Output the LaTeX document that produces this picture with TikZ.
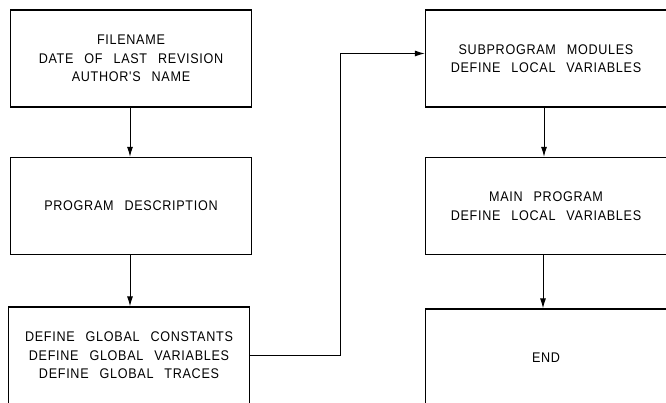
\documentclass[tikz,border=0pt]{standalone}
\usepackage{fontspec}
\newfontfamily\cadfont[FakeStretch=0.9,LetterSpace=5,WordSpace=2.6]{Liberation Sans}
\usetikzlibrary{arrows.meta}
\tikzset{
  blk/.style={draw,line width=1.3pt,minimum width=241pt,minimum height=97pt,
    align=center,inner sep=0pt,font=\cadfont\fontsize{14}{18.5}\selectfont},
  arr/.style={line width=1pt,-{Latex[length=10pt,width=6pt]}}
}
\begin{document}
\begin{tikzpicture}[x=1pt,y=-1pt]
	\useasboundingbox (0,0) rectangle (666,403);
	\clip (0,0) rectangle (666,403);
	% left column
	\node[blk] (head) at (131,58.5) {FILENAME\\DATE OF LAST REVISION\\AUTHOR'S NAME};
	\node[blk] (desc) at (131,206) {PROGRAM DESCRIPTION};
	\node[blk] (glob) at (129,355.5) {DEFINE GLOBAL CONSTANTS\\DEFINE GLOBAL VARIABLES\\DEFINE GLOBAL TRACES};
	% right column
	\node[blk] (subs) at (546,58.5) {SUBPROGRAM MODULES\\DEFINE LOCAL VARIABLES};
	\node[blk] (main) at (546,206) {MAIN PROGRAM\\DEFINE LOCAL VARIABLES};
	\node[blk] (fin) at (546,357.5) {END};
	\coordinate (jog) at (340,0);
	\draw[arr] (head.south) ++(-1,0) coordinate (a1) -- (a1 |- desc.north);
	\draw[arr] (desc.south) ++(-1,0) coordinate (a2) -- (a2 |- glob.north);
	\draw[arr] (glob.east) -- (glob.east -| jog) |- ([yshift=5pt]subs.west);
	\draw[arr] (subs.south) ++(-2,0) coordinate (a3) -- (a3 |- main.north);
	\draw[arr] (main.south) ++(-3,0) coordinate (a4) -- (a4 |- fin.north);
\end{tikzpicture}
\end{document}
